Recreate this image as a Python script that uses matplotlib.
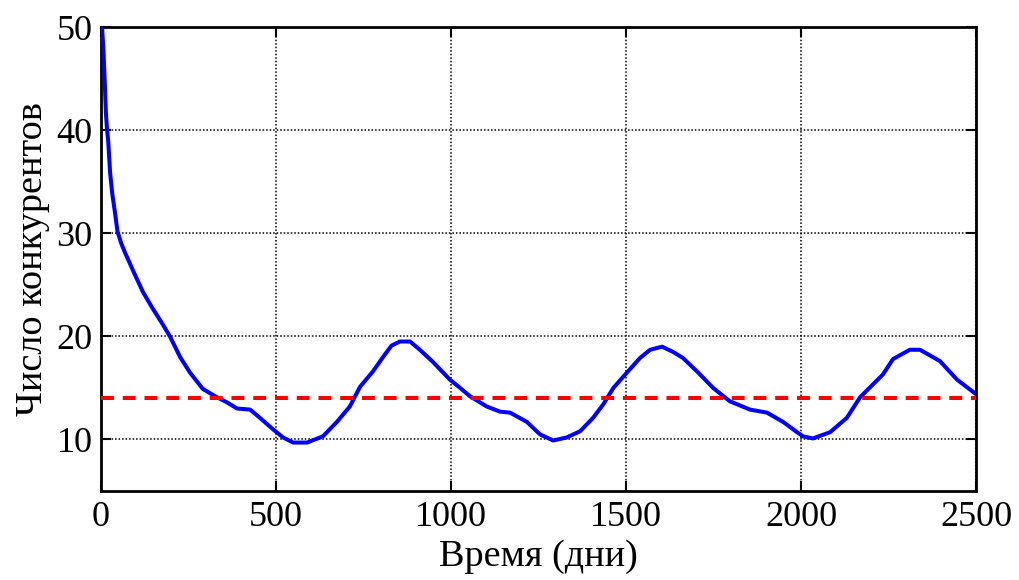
import matplotlib
matplotlib.use("Agg")
import matplotlib.pyplot as plt

days = [0, 3, 7, 11, 14, 17, 21, 26, 32, 40, 47, 58, 69, 94, 120, 146, 174, 197, 226,
        254, 291, 331, 360, 389, 426, 454, 491, 520, 549, 589, 634, 674, 711, 740, 777,
        806, 830, 854, 883, 911, 949, 997, 1026, 1054, 1102, 1140, 1169, 1217, 1254,
        1292, 1331, 1369, 1406, 1435, 1464, 1503, 1540, 1569, 1603, 1634, 1663, 1703,
        1749, 1797, 1854, 1903, 1949, 1989, 2006, 2034, 2083, 2131, 2169, 2234, 2263,
        2311, 2340, 2397, 2446, 2500]
competitors = [50, 50, 47.8, 44.5, 41.7, 40.2, 38.8, 35.9, 33.9, 32, 30.2, 29.0, 28.1,
               26.2, 24.3, 22.8, 21.3, 20, 18, 16.5, 14.9, 14.1, 13.6, 13.0, 12.9, 12.1,
               11.0, 10.2, 9.7, 9.7, 10.3, 11.7, 13.2, 15.1, 16.6, 18.0, 19.1, 19.5, 19.5,
               18.7, 17.5, 15.8, 15.0, 14.2, 13.2, 12.7, 12.6, 11.7, 10.5, 9.9, 10.2, 10.8,
               12.1, 13.4, 15.0, 16.5, 17.9, 18.7, 19.0, 18.5, 17.9, 16.6, 15.0, 13.7, 12.9,
               12.6, 11.7, 10.7, 10.3, 10.1, 10.7, 12.1, 14.1, 16.3, 17.8, 18.7, 18.7, 17.6,
               15.8, 14.4]
equilibrium = 14

x_ticks = [0, 500, 1000, 1500, 2000, 2500]
y_ticks = [10, 20, 30, 40, 50]

plt.rcParams['font.family'] = ['Liberation Serif', 'DejaVu Serif']

fig = plt.figure(figsize=(10.19, 5.8), dpi=100)
ax = fig.add_axes([0.0991, 0.1534, 0.8587, 0.8000])

ax.plot(days, competitors, color='#0000ff', lw=2.9, zorder=3, solid_joinstyle='round')
ax.axhline(equilibrium, color='#ff0000', lw=2.9, ls=(0, (3.2, 2.2)), zorder=4)

ax.set_xlim(0, 2500)
ax.set_ylim(5, 50)
ax.set_xticks(x_ticks)
ax.set_yticks(y_ticks)
ax.grid(True, color='black', ls=(0, (1, 1.3)), lw=1.1)
ax.tick_params(direction='in', top=True, right=True, length=7, width=1.5,
               labelsize=26)
ax.tick_params(axis='x', pad=7)
ax.tick_params(axis='y', pad=6)
for s in ax.spines.values():
    s.set_linewidth(2)

ax.set_xlabel('Время (дни)', fontsize=27.5, labelpad=4)
ax.set_ylabel('Число конкурентов', fontsize=27.5, labelpad=5)

fig.savefig('out.png', dpi=100)
